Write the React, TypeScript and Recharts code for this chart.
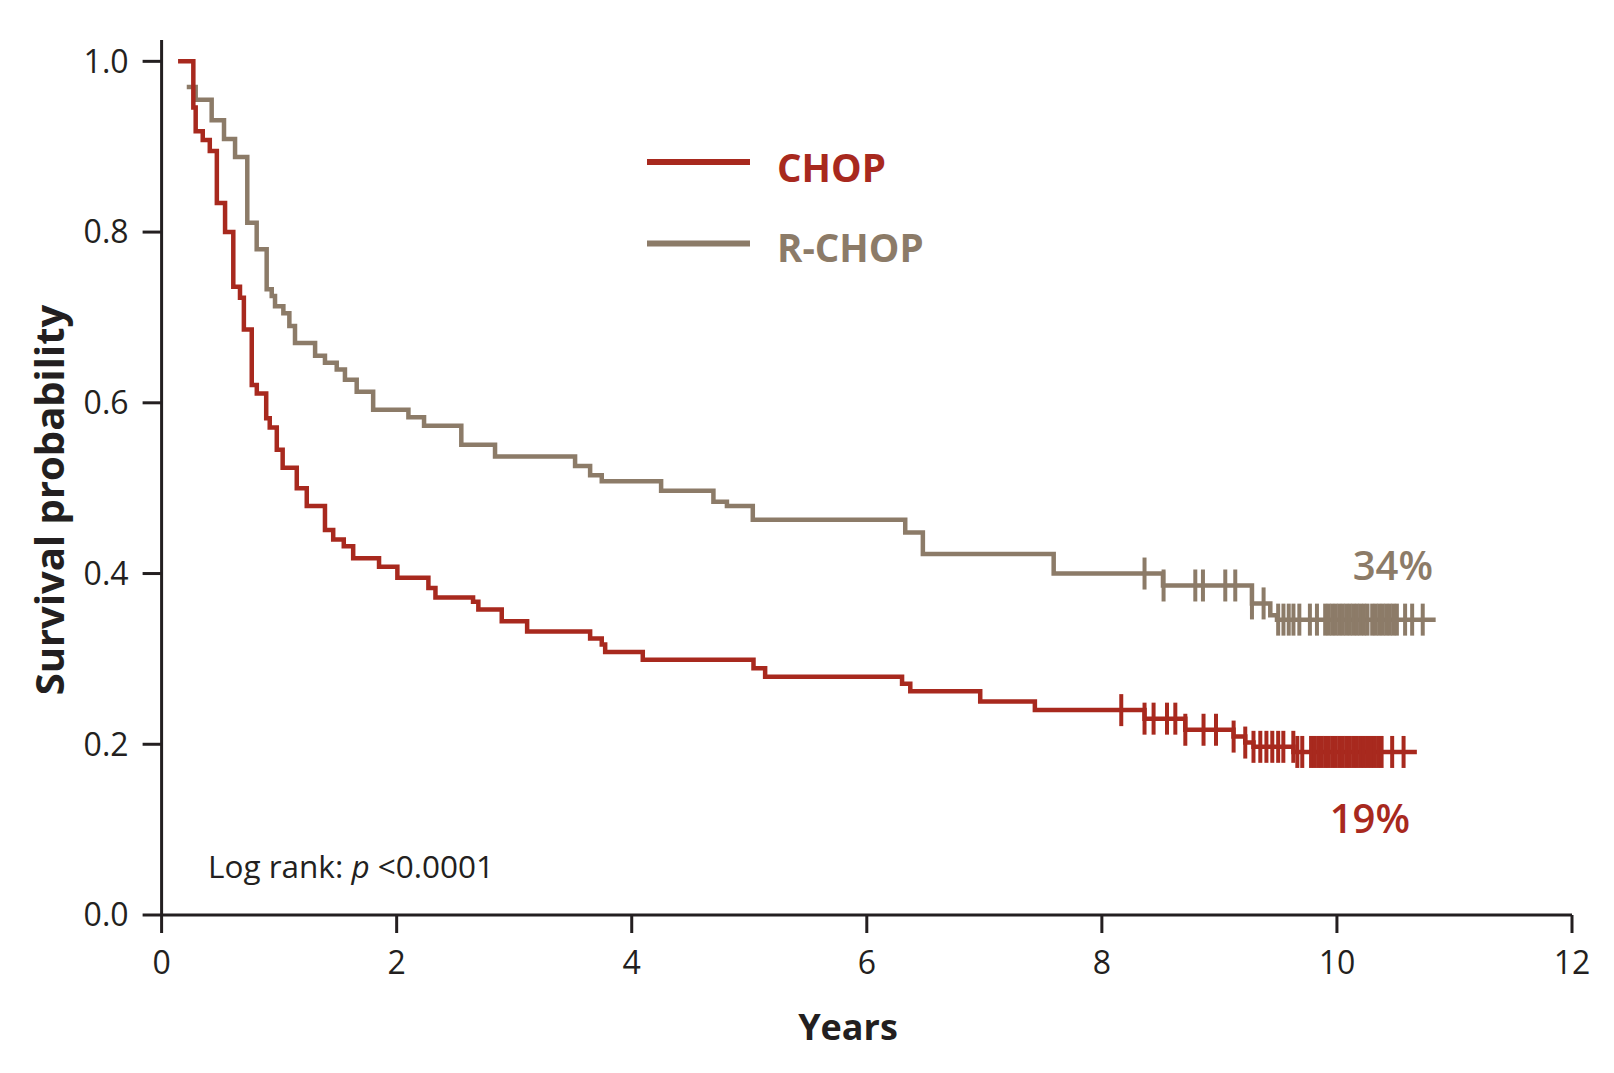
import React from 'react'
import {
  ComposedChart,
  Line,
  Scatter,
  XAxis,
  YAxis,
  Legend,
  Customized,
} from 'recharts'

const RED = '#A8291E'
const BROWN = '#8C7B68'
const INK = '#231F20'
const FONT = '"Open Sans", "Noto Sans", sans-serif'

// CHOP arm: step times (years) and survival after each step
const chopTimes = [
  0.14, 0.27, 0.29, 0.35, 0.41, 0.47, 0.54, 0.61, 0.667, 0.7, 0.767, 0.81, 0.89, 0.92, 0.98,
  1.03, 1.15, 1.235, 1.39, 1.46, 1.55, 1.63, 1.85, 2.006, 2.27, 2.33, 2.65, 2.695, 2.894, 3.11,
  3.646, 3.745, 3.774, 4.094, 5.036, 5.135, 6.3, 6.37, 6.965, 7.43, 8.363, 8.71, 9.12, 9.22,
  9.29, 9.63, 10.68,
]
const chopSurv = [
  1.0, 0.946, 0.918, 0.908, 0.895, 0.834, 0.8, 0.736, 0.723, 0.686, 0.621, 0.611, 0.582, 0.571,
  0.545, 0.524, 0.5, 0.479, 0.451, 0.44, 0.432, 0.418, 0.408, 0.395, 0.383, 0.372, 0.367, 0.358,
  0.344, 0.332, 0.324, 0.317, 0.308, 0.299, 0.289, 0.279, 0.271, 0.262, 0.25, 0.24, 0.23, 0.217,
  0.209, 0.202, 0.197, 0.191, 0.191,
]
// censored patients (tick marks)
const chopCensor = [
  8.165, 8.363, 8.44, 8.554, 8.625, 8.71, 8.865, 8.971, 9.121, 9.22, 9.29, 9.348, 9.4, 9.45, 9.5,
  9.544, 9.629, 9.663, 9.705, 9.78, 9.81, 9.84, 9.87, 9.9, 9.93, 9.96, 9.99, 10.02, 10.05, 10.08,
  10.11, 10.14, 10.17, 10.2, 10.23, 10.26, 10.29, 10.32, 10.35, 10.38, 10.47, 10.567,
]

// R-CHOP arm
const rchopTimes = [
  0.214, 0.29, 0.426, 0.531, 0.625, 0.729, 0.809, 0.894, 0.937, 0.965, 1.036, 1.087, 1.135, 1.306,
  1.39, 1.49, 1.56, 1.66, 1.8, 2.1, 2.233, 2.55, 2.837, 3.518, 3.646, 3.745, 4.25, 4.695, 4.81,
  5.03, 6.327, 6.477, 7.59, 8.52, 9.277, 9.433, 9.49, 10.84,
]
const rchopSurv = [
  0.97, 0.955, 0.931, 0.909, 0.888, 0.811, 0.78, 0.733, 0.725, 0.713, 0.705, 0.69, 0.67, 0.655,
  0.647, 0.639, 0.627, 0.613, 0.592, 0.583, 0.573, 0.551, 0.537, 0.526, 0.515, 0.508, 0.497, 0.484,
  0.479, 0.463, 0.448, 0.423, 0.4, 0.386, 0.365, 0.351, 0.346, 0.346,
]
const rchopCensor = [
  8.363, 8.525, 8.795, 8.86, 9.05, 9.135, 9.277, 9.376, 9.5, 9.545, 9.59, 9.63, 9.68, 9.77, 9.83,
  9.9, 9.93, 9.96, 9.99, 10.02, 10.05, 10.08, 10.11, 10.14, 10.17, 10.2, 10.23, 10.26, 10.3, 10.33,
  10.36, 10.39, 10.42, 10.45, 10.48, 10.51, 10.58, 10.64, 10.73,
]

const xTicks = [0, 2, 4, 6, 8, 10, 12]
const yTicks = [0, 0.2, 0.4, 0.6, 0.8, 1.0]

const legendItems = [
  { name: 'CHOP', color: RED },
  { name: 'R-CHOP', color: BROWN },
]

const toSteps = (times: number[], surv: number[]) => times.map((t, i) => ({ t, s: surv[i] }))

// survival value of the step curve at time t, so ticks sit on the line
const survAt = (times: number[], surv: number[], t: number) => {
  let v = surv[0]
  times.forEach((ti, i) => {
    if (ti <= t) v = surv[i]
  })
  return v
}

const chopData = toSteps(chopTimes, chopSurv)
const rchopData = toSteps(rchopTimes, rchopSurv)
const chopCensorData = chopCensor.map((t) => ({ t, s: survAt(chopTimes, chopSurv, t) }))
const rchopCensorData = rchopCensor.map((t) => ({ t, s: survAt(rchopTimes, rchopSurv, t) }))

const censorMark = (color: string) => (props: any) => {
  const { cx, cy } = props
  return <line x1={cx} x2={cx} y1={cy - 16} y2={cy + 16} stroke={color} strokeWidth={4} />
}

const renderLegend = () => (
  <svg width={320} height={160} style={{ display: 'block' }}>
    {legendItems.map((item, i) => (
      <g key={item.name}>
        <line x1={7} x2={110} y1={42 + i * 81.5} y2={42 + i * 81.5} stroke={item.color} strokeWidth={6} />
        <text
          x={137}
          y={62 + i * 80}
          fill={item.color}
          fontFamily={FONT}
          fontWeight={700}
          fontSize={38.5}
        >
          {item.name}
        </text>
      </g>
    ))}
  </svg>
)

const Annotations = () => (
  <g fontFamily={FONT}>
    <text x={1433} y={580} textAnchor="end" fill={BROWN} fontSize={40} fontWeight={600}>
      34%
    </text>
    <text x={1410} y={833} textAnchor="end" fill={RED} fontSize={40} fontWeight={600}>
      19%
    </text>
    <text x={208} y={878} fill={INK} fontSize={31.5}>
      Log rank: <tspan fontStyle="italic">p</tspan> {'<0.0001'}
    </text>
    <text x={848} y={1040} textAnchor="middle" fill={INK} fontSize={36} fontWeight={700}>
      Years
    </text>
    <text
      transform="rotate(-90)"
      x={-500}
      y={64}
      textAnchor="middle"
      fill={INK}
      fontSize={40}
      fontWeight={700}
    >
      Survival probability
    </text>
  </g>
)

const App = () => {
  return (
    <div style={{ position: 'absolute', left: 0, top: 0, background: '#fff' }}>
      <ComposedChart width={1614} height={1073} margin={{ top: 40, right: 42, bottom: 98, left: 0 }}>
        <XAxis
          dataKey="t"
          type="number"
          domain={[0, 12]}
          ticks={xTicks}
          height={60}
          axisLine={{ stroke: INK, strokeWidth: 3 }}
          tickLine={{ stroke: INK, strokeWidth: 3 }}
          tickSize={18}
          tickMargin={18}
          tick={{ fill: INK, fontSize: 32, fontFamily: FONT }}
          allowDataOverflow
        />
        <YAxis
          type="number"
          domain={[0, 1.025]}
          ticks={yTicks}
          width={161.6}
          axisLine={{ stroke: INK, strokeWidth: 3 }}
          tickLine={{ stroke: INK, strokeWidth: 3 }}
          tickSize={19}
          tickMargin={14}
          tickFormatter={(v: number) => v.toFixed(1)}
          tick={{ fill: INK, fontSize: 32, fontFamily: FONT }}
          allowDataOverflow
        />
        <Line
          data={rchopData}
          dataKey="s"
          name="R-CHOP"
          type="stepAfter"
          stroke={BROWN}
          strokeWidth={4.5}
          dot={false}
          activeDot={false}
          isAnimationActive={false}
        />
        <Scatter
          data={rchopCensorData}
          dataKey="s"
          fill={BROWN}
          shape={censorMark(BROWN)}
          legendType="none"
          isAnimationActive={false}
        />
        <Line
          data={chopData}
          dataKey="s"
          name="CHOP"
          type="stepAfter"
          stroke={RED}
          strokeWidth={4.5}
          dot={false}
          activeDot={false}
          isAnimationActive={false}
        />
        <Scatter
          data={chopCensorData}
          dataKey="s"
          fill={RED}
          shape={censorMark(RED)}
          legendType="none"
          isAnimationActive={false}
        />
        <Legend
          layout="vertical"
          align="center"
          verticalAlign="middle"
          content={renderLegend}
          wrapperStyle={{ position: 'absolute', left: 640, top: 120, width: 320, height: 160 }}
        />
        <Customized component={Annotations} />
      </ComposedChart>
    </div>
  )
}

export default App
